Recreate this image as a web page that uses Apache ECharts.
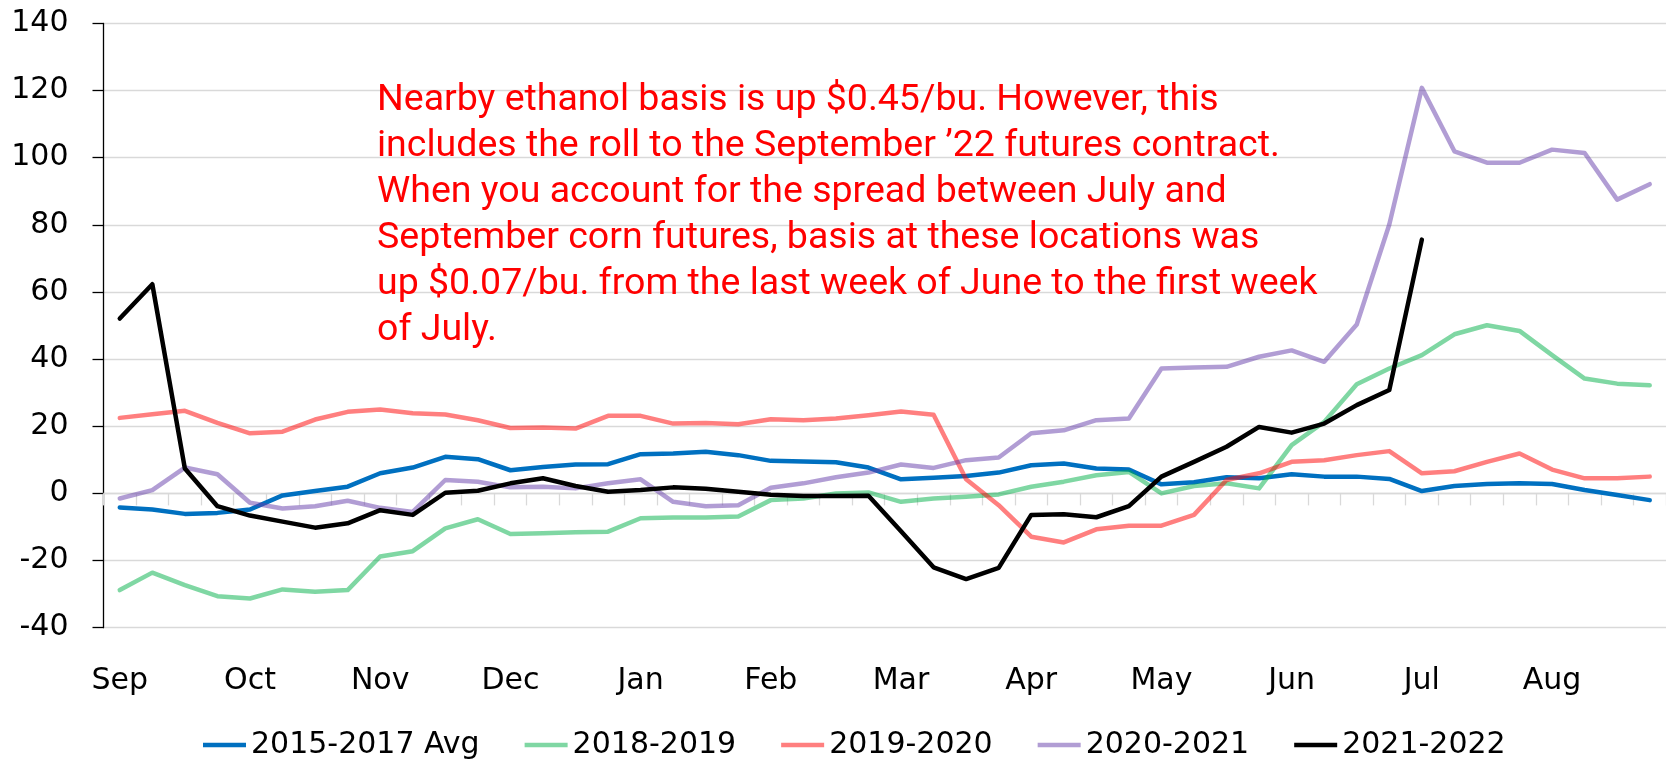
<!DOCTYPE html>
<html>
<head>
<meta charset="utf-8">
<title>Ethanol basis</title>
<script src="https://cdn.jsdelivr.net/npm/echarts@6/dist/echarts.min.js"></script>
<style>html,body{margin:0;padding:0;background:#fff;}</style>
</head>
<body>
<div id="main" style="width:1666px;height:761px;"></div>
<script>
// weekly basis, Sep week 1 .. Aug week 4 (48 weeks)
var months = ['Sep', 'Oct', 'Nov', 'Dec', 'Jan', 'Feb', 'Mar', 'Apr', 'May', 'Jun', 'Jul', 'Aug'];
var weeksPerMonth = 4;
var yMin = -40, yMax = 140, yStep = 20;

var avg1517 = [-4.2, -4.8, -6.1, -5.8, -4.8, -0.6, 0.7, 2.0, 6.0, 7.7, 10.9, 10.2,
    6.9, 7.9, 8.6, 8.7, 11.7, 11.9, 12.4, 11.4, 9.7, 9.5, 9.3, 7.7,
    4.2, 4.7, 5.2, 6.2, 8.4, 8.9, 7.4, 7.1, 2.7, 3.3, 4.8, 4.5,
    5.7, 5.0, 5.0, 4.3, 0.7, 2.2, 2.8, 3.0, 2.8, 1.0, -0.5, -2.0];
var y1819 = [-28.8, -23.6, -27.3, -30.6, -31.3, -28.6, -29.3, -28.8, -18.8, -17.2, -10.4, -7.7,
    -12.1, -11.9, -11.6, -11.4, -7.4, -7.2, -7.2, -6.9, -2.0, -1.5, 0, 0.3,
    -2.5, -1.5, -1.0, -0.3, 2.0, 3.5, 5.4, 6.4, 0, 2.2, 3.0, 1.5,
    14.4, 21.3, 32.5, 37.2, 41.2, 47.4, 50.1, 48.4, 41.2, 34.2, 32.7, 32.2];
var y1920 = [22.5, 23.6, 24.6, 21.0, 17.9, 18.4, 22.0, 24.3, 25.0, 23.9, 23.5, 21.8,
    19.5, 19.6, 19.3, 23.1, 23.1, 20.8, 21.0, 20.6, 22.1, 21.8, 22.3, 23.3,
    24.4, 23.4, 4.2, -3.5, -12.9, -14.6, -10.7, -9.6, -9.6, -6.4, 4.0, 6.0,
    9.4, 9.9, 11.4, 12.6, 6.0, 6.6, 9.4, 11.9, 7.1, 4.5, 4.5, 5.0];
var y2021 = [-1.5, 1.0, 7.7, 5.7, -2.8, -4.5, -3.8, -2.2, -4.3, -5.5, 4.0, 3.5,
    1.8, 2.0, 1.5, 3.0, 4.2, -2.5, -3.8, -3.5, 1.7, 3.0, 4.8, 6.2,
    8.6, 7.6, 9.9, 10.7, 17.9, 18.8, 21.8, 22.3, 37.2, 37.5, 37.7, 40.7,
    42.6, 39.2, 50.3, 80.1, 120.8, 101.9, 98.5, 98.5, 102.4, 101.4, 87.5, 92.1];
var y2122 = [52.1, 62.3, 7.4, -3.8, -6.6, -8.4, -10.2, -8.9, -5.0, -6.4, 0.2, 0.8,
    3.0, 4.5, 2.2, 0.5, 1.0, 1.8, 1.4, 0.5, -0.4, -0.8, -0.8, -0.7,
    -11.3, -22.0, -25.5, -22.2, -6.4, -6.2, -7.1, -3.8, 5.0, 9.4, 13.9, 19.8,
    18.1, 20.8, 26.3, 30.8, 75.6, null, null, null, null, null, null, null];

var seriesNames = ['2015-2017 Avg', '2018-2019', '2019-2020', '2020-2021', '2021-2022'];
var seriesColors = ['#0070c0', 'rgba(0,176,72,0.5)', 'rgba(255,0,0,0.5)', 'rgba(100,60,170,0.5)', '#000000'];

var note = [
    'Nearby ethanol basis is up $0.45/bu. However, this',
    'includes the roll to the September \u201922 futures contract.',
    'When you account for the spread between July and',
    'September corn futures, basis at these locations was',
    'up $0.07/bu. from the last week of June to the first week',
    'of July.'
];

var weeks = [];
for (var i = 0; i < months.length * weeksPerMonth; i++) {
    weeks.push(i % weeksPerMonth === 0 ? months[i / weeksPerMonth] : '');
}

var font = 'DejaVu Sans';
var allData = [avg1517, y1819, y1920, y2021, y2122];
var series = [];
for (var s = 0; s < seriesNames.length; s++) {
    series.push({
        name: seriesNames[s],
        type: 'line',
        data: allData[s],
        symbol: 'none',
        connectNulls: false,
        lineStyle: {color: seriesColors[s], width: 4.5, join: 'round', cap: 'round'},
        itemStyle: {color: seriesColors[s]},
        z: 2 + s
    });
}

var myChart = echarts.init(document.getElementById('main'));
myChart.setOption({
    animation: false,
    backgroundColor: '#ffffff',
    grid: {left: 103.5, right: 0, top: 23.4, bottom: 133.3, containLabel: false},
    legend: {
        data: seriesNames,
        left: 198,
        top: 725,
        icon: 'rect',
        itemWidth: 43,
        itemHeight: 4.5,
        itemGap: 45,
        textStyle: {fontFamily: font, fontSize: 30, color: '#000'}
    },
    xAxis: [{
        type: 'category',
        data: weeks,
        position: 'bottom',
        boundaryGap: true,
        axisLine: {onZero: true, lineStyle: {color: '#d9d9d9', width: 1.3}},
        axisTick: {show: true, interval: 0, length: 12, lineStyle: {color: '#d9d9d9', width: 1.3}},
        axisLabel: {show: false},
        splitLine: {show: false}
    }, {
        type: 'category',
        data: weeks,
        position: 'bottom',
        boundaryGap: true,
        axisLine: {show: false, onZero: false},
        axisTick: {show: false},
        axisLabel: {interval: 0, margin: 39, fontFamily: font, fontSize: 30, color: '#000'},
        splitLine: {show: false}
    }],
    yAxis: {
        type: 'value',
        min: yMin,
        max: yMax,
        interval: yStep,
        axisLine: {show: true, lineStyle: {color: '#000', width: 1.3}},
        axisTick: {show: true, length: 11, lineStyle: {color: '#000', width: 1.3}},
        axisLabel: {margin: 35, fontFamily: font, fontSize: 30, color: '#000'},
        splitLine: {show: true, lineStyle: {color: '#d9d9d9', width: 1.3}}
    },
    graphic: [{
        type: 'text',
        left: 377,
        top: 78,
        z: 10,
        style: {
            text: note.join('\n'),
            fill: '#ff0000',
            fontFamily: 'Roboto',
            fontSize: 37.5,
            lineHeight: 46
        }
    }],
    series: series
});
</script>
</body>
</html>
